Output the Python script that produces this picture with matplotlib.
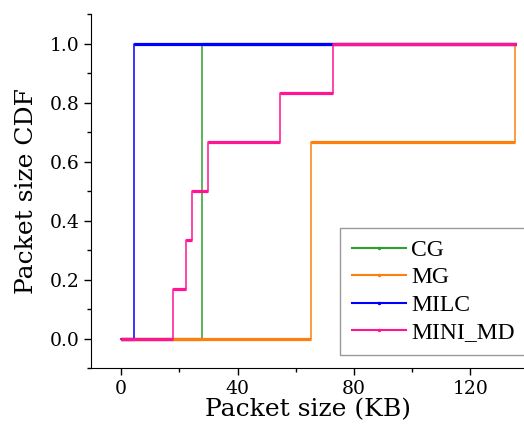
import numpy as np
import matplotlib
matplotlib.use('Agg')
import matplotlib.pyplot as plt
from matplotlib.lines import Line2D

# packet sizes (KB) seen per application
apps = ['CG', 'MG', 'MILC', 'MINI_MD']
cg_sizes = [27.8]
mg_sizes = [65.3, 65.3, 135.4]
milc_sizes = [4.3]
mini_md_sizes = [17.9, 22.2, 24.4, 30.0, 54.5, 72.9]
x_start = 0.0
x_end = 135.8

colors = ['#2ca02c', '#ff7f0e', '#0000ff', '#ff1493']


def cdf_steps(sizes):
    s = np.sort(np.asarray(sizes, dtype=float))
    xs = [x_start]
    ys = [0.0]
    n = len(s)
    for i, v in enumerate(s):
        xs += [v, v]
        ys += [ys[-1], (i + 1) / n]
    xs.append(max(x_end, s[-1]))
    ys.append(ys[-1])
    return np.array(xs), np.array(ys)


def main():
    plt.rcParams['font.family'] = 'DejaVu Serif'
    fig = plt.figure(figsize=(5.24, 4.28), dpi=100)
    ax = fig.add_axes([0.174, 0.140, 0.826, 0.827])

    all_sizes = [cg_sizes, mg_sizes, milc_sizes, mini_md_sizes]
    for sizes, c in zip(all_sizes, colors):
        xs, ys = cdf_steps(sizes)
        ax.plot(xs, ys, '-', color=c, lw=1.1)
        # horizontal parts come out heavier in the original
        ax.hlines(ys[0::2], xs[0::2], xs[1::2], color=c, lw=2.3)

    ax.set_xlim(-10.3, 138.4)
    ax.set_ylim(-0.1, 1.1)
    ax.set_xticks([0, 40, 80, 120])
    ax.set_xticks([20, 60, 100], minor=True)
    ax.set_yticks([0.0, 0.2, 0.4, 0.6, 0.8, 1.0])
    ax.set_yticks(np.arange(-0.1, 1.11, 0.2), minor=True)
    ax.set_yticklabels(['0.0', '0.2', '0.4', '0.6', '0.8', '1.0'])

    for s in ['top', 'right']:
        ax.spines[s].set_visible(False)
    ax.tick_params(which='major', length=5, width=1, labelsize=13.5, direction='out')
    ax.tick_params(which='minor', length=3, width=1, direction='out')

    ax.set_xlabel('Packet size (KB)', fontsize=18, labelpad=0)
    ax.set_ylabel('Packet size CDF', fontsize=18, labelpad=8)

    handles = [Line2D([], [], color=c, lw=1.5, marker='.', markersize=3) for c in colors]
    leg = fig.legend(handles, apps, loc='upper left', bbox_to_anchor=(0.649, 0.468),
                     prop={'family': 'Liberation Serif', 'size': 17},
                     fancybox=False, edgecolor='#999999', framealpha=1,
                     handlelength=2.3, handletextpad=0.2, labelspacing=0.25,
                     borderpad=0.5, borderaxespad=0)
    leg.get_frame().set_linewidth(1.0)

    fig.savefig('out.png', dpi=100)
    plt.close()


if __name__ == '__main__':
    main()
